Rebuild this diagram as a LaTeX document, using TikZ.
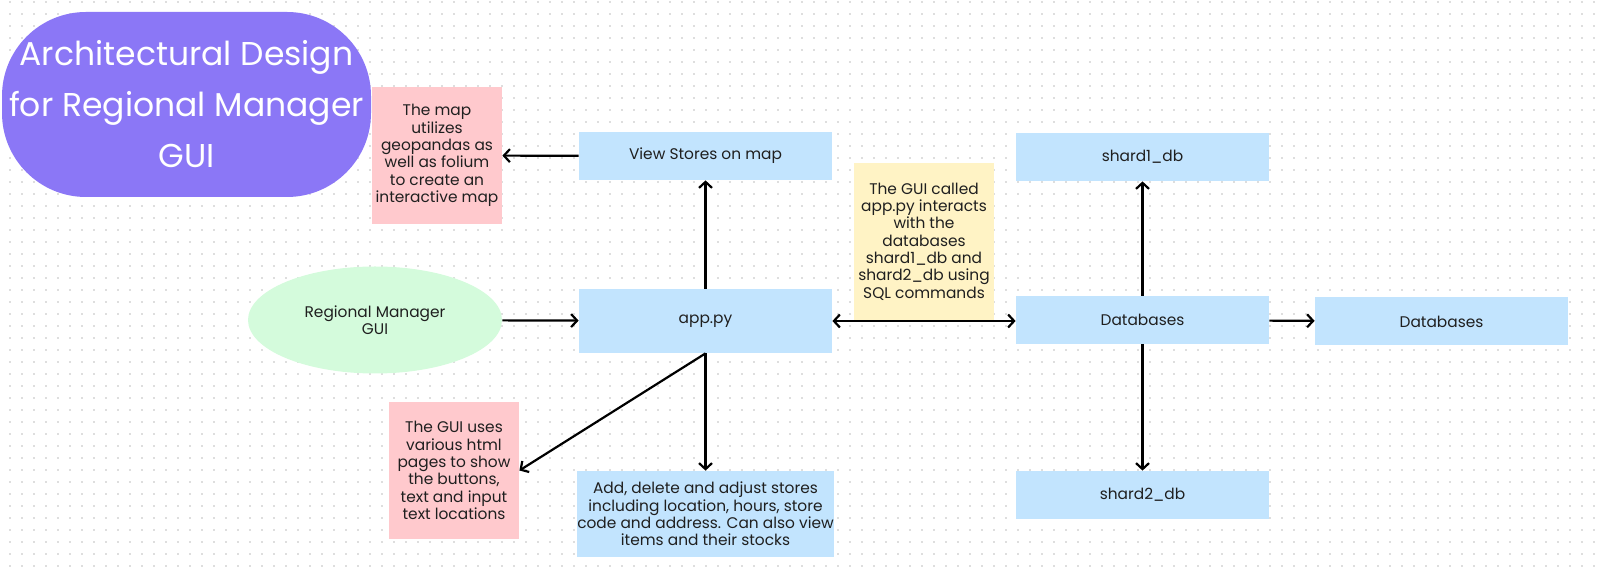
\documentclass[tikz,border=0pt]{standalone}
\usepackage{fontspec}
\setmainfont{Poppins}
\definecolor{panelBlue}{rgb}{0.76,0.894,0.996}
\definecolor{memoPink}{rgb}{1,0.788,0.804}
\definecolor{memoYellow}{rgb}{1,0.953,0.773}
\definecolor{actorGreen}{rgb}{0.831,0.984,0.863}
\definecolor{bannerPurple}{rgb}{0.545,0.467,0.965}
\definecolor{gridDot}{rgb}{0.87,0.87,0.87}
\usetikzlibrary{shapes}
\usetikzlibrary{arrows.meta}
\tikzstyle{bodytext} = [font={\fontsize{7.7}{8.65}\selectfont}, text=black!88,
        align=center, inner sep=0pt]
\tikzstyle{panel} = [bodytext, rectangle, fill=panelBlue,
        minimum width=126.5pt, minimum height=24pt]
\tikzstyle{memo} = [bodytext, rectangle, minimum width=65pt, minimum height=68.5pt]
\tikzstyle{actor} = [bodytext, ellipse, fill=actorGreen,
        minimum width=127pt, minimum height=53.5pt]
\tikzstyle{banner} = [rectangle, rounded corners=42pt, fill=bannerPurple, text=white,
        align=center, font={\fontsize{16.5}{25.5}\selectfont},
        minimum width=184.5pt, minimum height=92.5pt]
\tikzstyle{link} = [line width=1.1pt, >={Straight Barb[length=3pt,width=6.5pt]}]
\tikzstyle{gridline} = [gridDot, line width=0.9pt, dash pattern=on 0.9pt off 5.1pt]
\begin{document}
\begin{tikzpicture}[x=0.5pt, y=-0.5pt]
                \useasboundingbox (0,0) rectangle (1600,576);
                % dotted canvas
                \foreach \row in {0,...,47}
                    \draw[gridline] (9,{2+12*\row}) -- (1600,{2+12*\row});
                \draw
                    (186.5,104.5)
                    node [banner] (title) {Architectural Design\\for Regional Manager\\GUI}
                    (437,155.5)
                    node [memo, fill=memoPink] (mapnote) {The map\\utilizes\\geopandas as\\well as folium\\to create an\\interactive map}
                    (705.5,156)
                    node [panel] (view) {View Stores on map}
                    (375,320)
                    node [actor] (manager) {Regional Manager\\GUI}
                    (705.5,321)
                    node [panel, minimum height=32pt] (app) {app.py}
                    (454,470.5)
                    node [memo, fill=memoPink] (htmlnote) {The GUI uses\\various html\\pages to show\\the buttons,\\text and input\\text locations}
                    (705.5,514)
                    node [panel, minimum height=43pt] (stores) {Add, delete and adjust stores\\including location, hours, store\\code and address. Can also view\\items and their stocks}
                    (924,241.5)
                    node [memo, fill=memoYellow, minimum width=70pt, minimum height=78.5pt] (sqlnote) {The GUI called\\app.py interacts\\with the\\databases\\shard1\_db and\\shard2\_db using\\SQL commands}
                    (1142.5,157)
                    node [panel] (shard1) {shard1\_db}
                    (1142.5,320)
                    node [panel] (db) {Databases}
                    (1142.5,495)
                    node [panel] (shard2) {shard2\_db}
                    (1441.5,321.5)
                    node [panel] (dbcopy) {Databases};
                \draw[link, ->] (view) -- (mapnote);
                \draw[link, ->] (app) -- (view);
                \draw[link, ->] (manager) -- (app);
                \draw[link, <->] (app.east) -- (db.west |- app.east);
                \draw[link, ->] (app.south) -- (stores);
                \draw[link, ->] (app.south) -- (htmlnote.east);
                \draw[link, ->] (db) -- (shard1);
                \draw[link, ->] (db) -- (shard2);
                \draw[link, ->] (db) -- (dbcopy);
            \end{tikzpicture}
\end{document}
